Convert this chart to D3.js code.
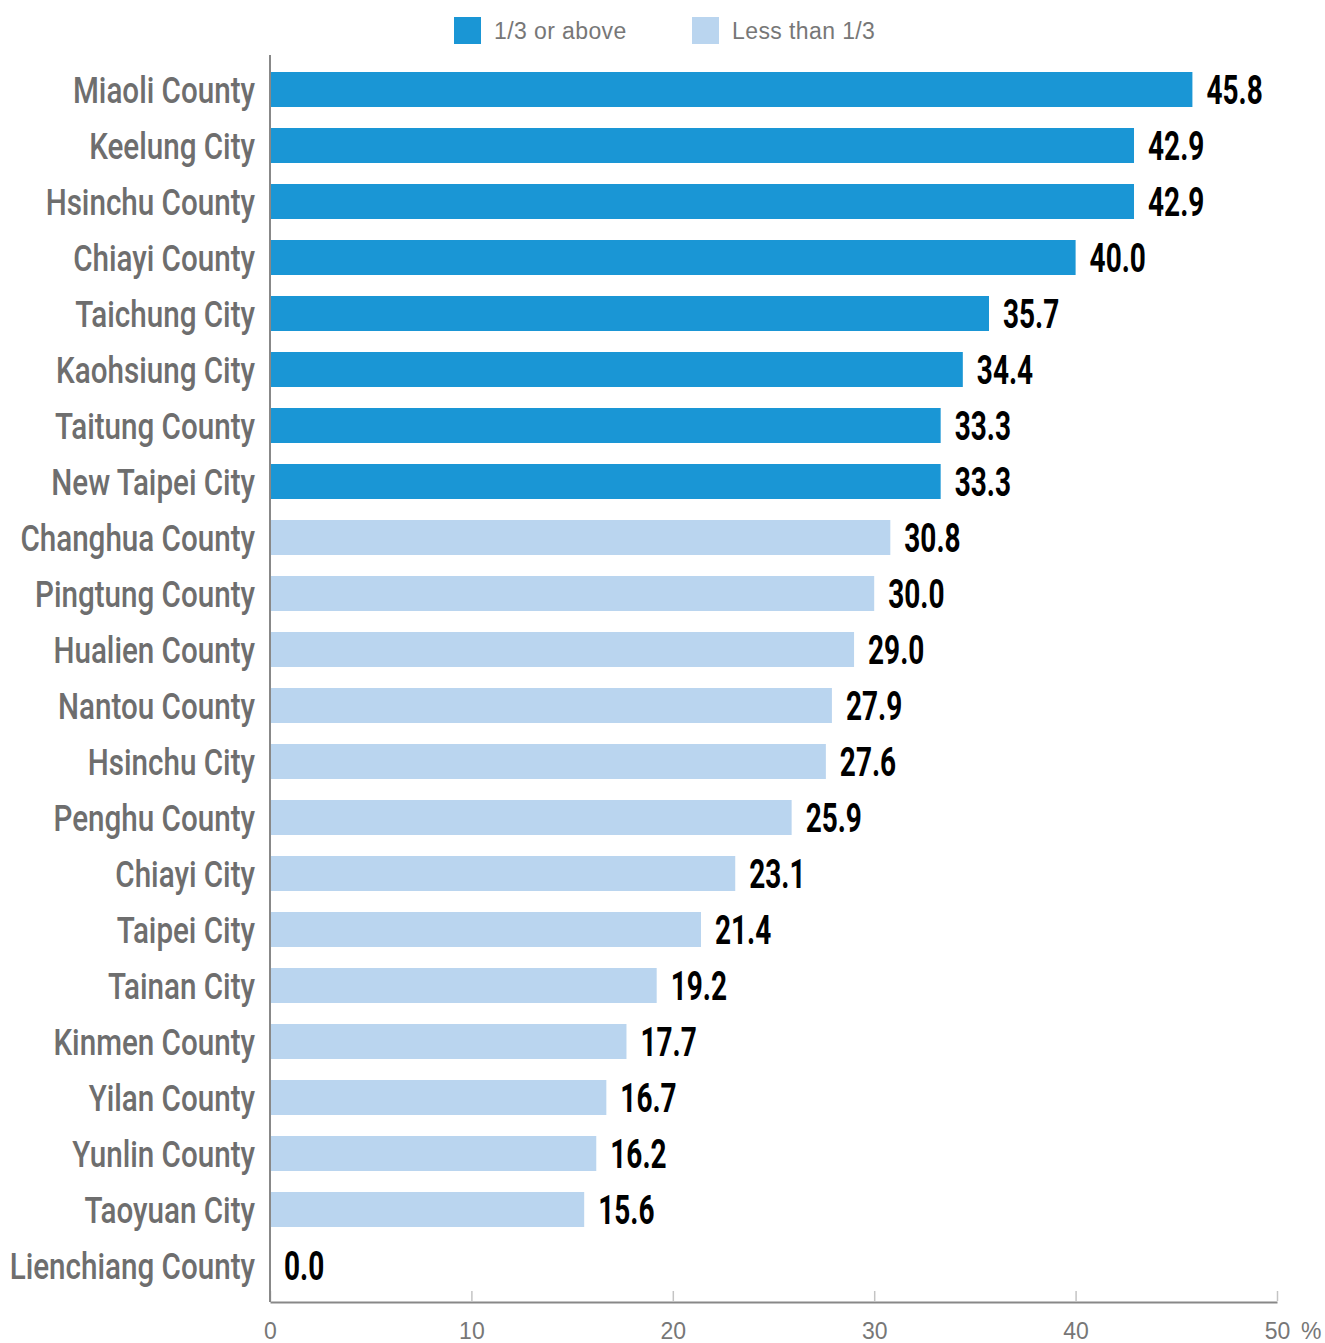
<!DOCTYPE html>
<html>
<head>
<meta charset="utf-8">
<script src="https://cdn.jsdelivr.net/npm/d3@7"></script>
<style>
  body { margin: 0; background: #fff; }
  svg { display: block; }
</style>
</head>
<body>
<svg id="chart"></svg>
<script>
const categories = [
    "Miaoli County", "Keelung City", "Hsinchu County", "Chiayi County", "Taichung City",
    "Kaohsiung City", "Taitung County", "New Taipei City", "Changhua County", "Pingtung County",
    "Hualien County", "Nantou County", "Hsinchu City", "Penghu County", "Chiayi City",
    "Taipei City", "Tainan City", "Kinmen County", "Yilan County", "Yunlin County",
    "Taoyuan City", "Lienchiang County"
];
const values = [
    45.8, 42.9, 42.9, 40.0, 35.7, 34.4, 33.3, 33.3, 30.8, 30.0,
    29.0, 27.9, 27.6, 25.9, 23.1, 21.4, 19.2, 17.7, 16.7, 16.2,
    15.6, 0.0
];
// group: true = 1/3 or above
const groups = [
    true, true, true, true, true, true, true, true, false, false,
    false, false, false, false, false, false, false, false, false, false,
    false, false
];
const legendLabels = ["1/3 or above", "Less than 1/3"];
const xTicks = [0, 10, 20, 30, 40, 50];

const width = 1325;
const height = 1343;
const margin = { top: 61.5, right: 48, bottom: 41, left: 270 };

const colors = { high: "#1a96d5", low: "#bad5ef" };

const svg = d3.select("#chart").attr("width", width).attr("height", height);

const x = d3.scaleLinear()
    .domain([0, 50])
    .range([margin.left, width - margin.right]);

// step of 56px, bars 35px tall
const y = d3.scaleBand()
    .domain(categories)
    .range([margin.top, margin.top + 56 * categories.length])
    .paddingInner(0.375)
    .paddingOuter(0.1875);

const rows = categories.map((name, i) => ({ name, value: values[i], high: groups[i] }));

// Bars
svg.append("g")
    .selectAll("rect")
    .data(rows)
    .join("rect")
    .attr("x", x(0))
    .attr("y", d => y(d.name))
    .attr("width", d => x(d.value) - x(0))
    .attr("height", y.bandwidth())
    .attr("fill", d => d.high ? colors.high : colors.low);

// Category labels (condensed look)
svg.append("g")
    .selectAll("text")
    .data(rows)
    .join("text")
    .attr("transform", d => `translate(${x(0) - 15}, ${y(d.name) + y.bandwidth() / 2}) scale(0.8, 1)`)
    .attr("text-anchor", "end")
    .attr("dy", "0.36em")
    .attr("fill", "#6e6e6e")
    .style("font-family", "Roboto, 'Liberation Sans', sans-serif")
    .style("font-weight", "500")
    .style("font-size", "37px")
    .text(d => d.name);

// Value labels
svg.append("g")
    .selectAll("text")
    .data(rows)
    .join("text")
    .attr("transform", d => `translate(${x(d.value) + 14}, ${y(d.name) + y.bandwidth() / 2}) scale(0.7, 1)`)
    .attr("dy", "0.36em")
    .attr("fill", "#000")
    .style("font-family", "Roboto, 'Liberation Sans', sans-serif")
    .style("font-weight", "700")
    .style("font-size", "40px")
    .text(d => d.value.toFixed(1));

// X axis
const axisY = height - margin.bottom;
const xAxis = svg.append("g")
    .attr("transform", `translate(0, ${axisY})`)
    .call(d3.axisBottom(x).tickValues(xTicks).tickSize(0).tickPadding(21));
xAxis.select(".domain").attr("stroke", "#888").attr("stroke-width", 2);
xAxis.selectAll(".tick text")
    .attr("fill", "#777")
    .style("font-family", "'Liberation Sans', Arial, sans-serif")
    .style("font-size", "23px");
xAxis.selectAll(".tick").append("line")
    .attr("y1", -1)
    .attr("y2", -11)
    .attr("stroke", "#c4c4c4")
    .attr("stroke-width", 1.5);

svg.append("text")
    .attr("x", x(50) + 24)
    .attr("y", axisY + 21)
    .attr("dy", "0.71em")
    .attr("fill", "#777")
    .style("font-family", "'Liberation Sans', Arial, sans-serif")
    .style("font-size", "23px")
    .text("%");

// Y axis line
svg.append("line")
    .attr("x1", x(0))
    .attr("x2", x(0))
    .attr("y1", 55)
    .attr("y2", axisY)
    .attr("stroke", "#888")
    .attr("stroke-width", 2);

// Legend
const legend = svg.append("g");
const legendX = [454, 692];
legendLabels.forEach((label, i) => {
    legend.append("rect")
        .attr("x", legendX[i])
        .attr("y", 17)
        .attr("width", 27)
        .attr("height", 27)
        .attr("fill", i === 0 ? colors.high : colors.low);
    legend.append("text")
        .attr("x", legendX[i] + 40)
        .attr("y", 31)
        .attr("dy", "0.35em")
        .attr("fill", "#777")
        .style("font-family", "'Liberation Sans', Arial, sans-serif")
        .style("font-size", "23px")
        .style("letter-spacing", "0.4px")
        .text(label);
});
</script>
</body>
</html>
